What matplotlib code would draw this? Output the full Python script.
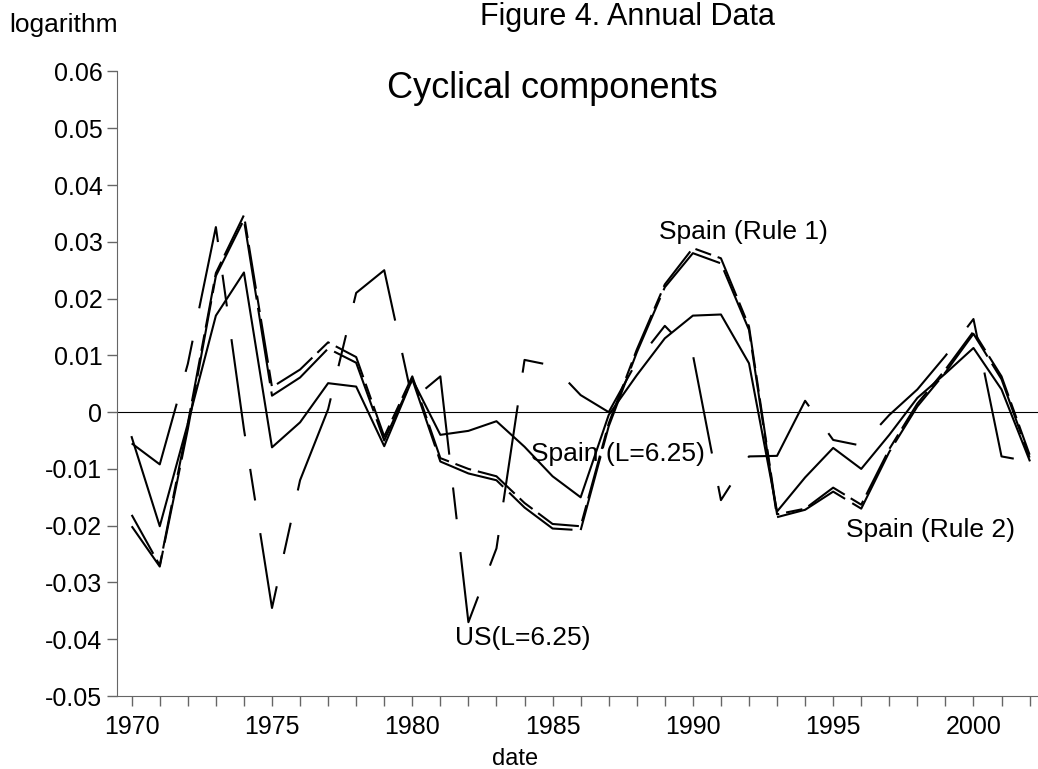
import numpy as np
import matplotlib.pyplot as plt

plt.rcParams['font.family'] = ['Liberation Sans', 'DejaVu Sans']
plt.rcParams['axes.unicode_minus'] = False
plt.rcParams['lines.scale_dashes'] = False

years = np.arange(1970, 2003)

spain_l = [-0.0044, -0.0201, -0.0020, 0.0170, 0.0246, -0.0062, -0.0018, 0.0051, 0.0045, -0.0060,
           0.0058, -0.0040, -0.0033, -0.0016, -0.0061, -0.0113, -0.0150, -0.0005, 0.0065, 0.0130,
           0.0170, 0.0172, 0.0086, -0.0175, -0.0115, -0.0063, -0.0100, -0.0040, 0.0025, 0.0068,
           0.0113, 0.0040, -0.0085]
us_l = [-0.0055, -0.0092, 0.0085, 0.0326, -0.0030, -0.0345, -0.0120, 0.0005, 0.0210, 0.0250,
        0.0022, 0.0063, -0.0370, -0.0240, 0.0092, 0.0082, 0.0030, 0.0000, 0.0089, 0.0152,
        0.0101, -0.0155, -0.0078, -0.0077, 0.0020, -0.0049, -0.0059, -0.0005, 0.0040, 0.0099,
        0.0164, -0.0078, -0.0087]
spain_r1 = [-0.0181, -0.0270, -0.0020, 0.0245, 0.0347, 0.0044, 0.0075, 0.0123, 0.0097, -0.0043,
            0.0063, -0.0081, -0.0100, -0.0113, -0.0160, -0.0197, -0.0201, -0.0020, 0.0110, 0.0225,
            0.0289, 0.0271, 0.0151, -0.0180, -0.0170, -0.0133, -0.0163, -0.0065, 0.0015, 0.0075,
            0.0142, 0.0063, -0.0075]
spain_r2 = [-0.0201, -0.0272, -0.0030, 0.0240, 0.0339, 0.0029, 0.0061, 0.0112, 0.0087, -0.0050,
            0.0058, -0.0087, -0.0108, -0.0120, -0.0168, -0.0205, -0.0208, -0.0025, 0.0105, 0.0220,
            0.0280, 0.0262, 0.0145, -0.0185, -0.0172, -0.0140, -0.0170, -0.0070, 0.0010, 0.0070,
            0.0138, 0.0058, -0.0080]

xtick_labels = [str(y) if y % 5 == 0 else '' for y in years]
yticks = np.round(np.arange(-0.05, 0.0601, 0.01), 2)
ytick_labels = ['0' if v == 0 else '%.2f' % v for v in yticks]

W, H = 1038, 769
fig = plt.figure(figsize=(W / 100, H / 100), dpi=100)
ax = fig.add_axes([117 / W, 1 - 696 / H, 921 / W, (696 - 71.5) / H])

# dash lengths given in points (1 px = 0.72 pt)
ax.axhline(0, color='k', lw=0.8)
ax.plot(years, spain_l, color='k', lw=1.5)
ax.plot(years, spain_r1, color='k', lw=1.5, linestyle=(0, (32, 5, 12, 5)))
ax.plot(years, spain_r2, color='k', lw=1.5, linestyle=(8, (55, 6)))
ax.plot(years, us_l, color='k', lw=1.5, linestyle=(0, (70.6, 23.8, 23, 23.8)))

ax.set_xlim(1969.476, 2002.3)
ax.set_ylim(-0.05, 0.06)
ax.set_xticks(years)
ax.set_xticklabels(xtick_labels)
ax.set_yticks(yticks)
ax.set_yticklabels(ytick_labels)
ax.tick_params(direction='out', length=7, width=1, colors='#666666', labelcolor='k', labelsize=18)
ax.tick_params(axis='x', pad=7)
for s in ['top', 'right']:
    ax.spines[s].set_visible(False)
for s in ['left', 'bottom']:
    ax.spines[s].set_color('#666666')

def ftext(x, y, s, size, ha='center', va='center'):
    fig.text(x / W, 1 - y / H, s, fontsize=size, ha=ha, va=va)

ftext(628, 25, 'Figure 4. Annual Data', 22, va='baseline')
ftext(552, 88, 'Cyclical components', 26)
ftext(9, 25, 'logarithm', 19, ha='left')
ftext(515, 759, 'date', 17)
ftext(743, 232, 'Spain (Rule 1)', 19)
ftext(618, 454, 'Spain (L=6.25)', 19)
ftext(931, 530, 'Spain (Rule 2)', 19)
ftext(523, 638, 'US(L=6.25)', 19)

fig.savefig('out.png', dpi=100)
